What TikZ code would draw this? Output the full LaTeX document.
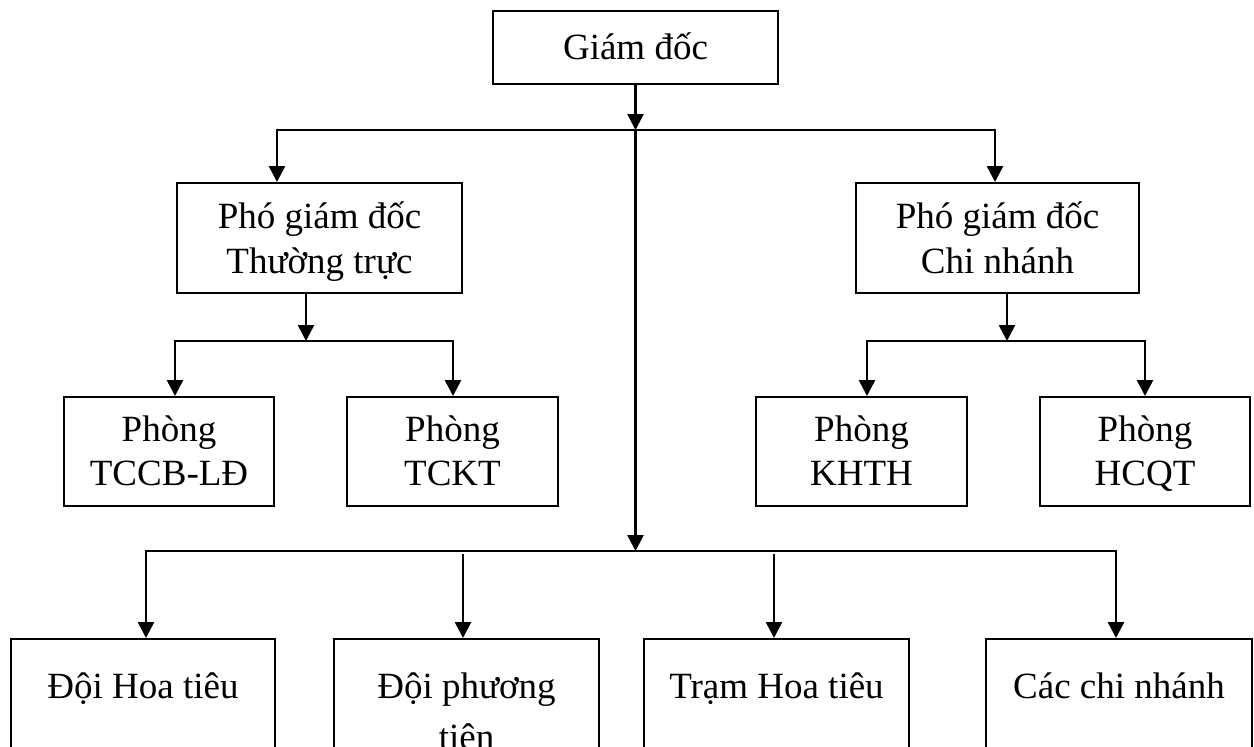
\documentclass[tikz,border=0pt]{standalone}
\usepackage{fontspec}
\setmainfont{Liberation Serif}
\usetikzlibrary{arrows.meta}
\newcommand{\twol}[3][0pt]{\begin{tabular}[t]{@{}c@{}}#2\\[#1]#3\end{tabular}}
\begin{document}
\begin{tikzpicture}[x=0.5pt,y=-0.5pt,
  box/.style={draw, line width=1pt, inner sep=0pt, anchor=north,
    font=\fontsize{18.5pt}{22.5pt}\selectfont},
  conn/.style={line width=1.3pt},
  arr/.style={conn, -{Triangle[width=8pt,length=8pt]}}]
\useasboundingbox (0,0) rectangle (1254,746);

% boxes (anchored at their top edge; text height/depth place the first baseline)
\node[box, minimum width=142.5pt, text height=24pt, text depth=12.5pt] (gd) at (635.5,10) {Giám đốc};
\node[box, minimum width=142.5pt, text height=22.5pt, text depth=32.5pt] (pgd1) at (319.5,182) {\twol{Phó giám đốc}{Thường trực}};
\node[box, minimum width=141.5pt, text height=22.5pt, text depth=32.5pt] (pgd2) at (997.5,182) {\twol{Phó giám đốc}{Chi nhánh}};
\node[box, minimum width=105pt, text height=22pt, text depth=32.5pt] (p1) at (169,396) {\twol[-0.5pt]{Phòng}{TCCB-LĐ}};
\node[box, minimum width=105.5pt, text height=22pt, text depth=32.5pt] (p2) at (452.5,396) {\twol[-0.5pt]{Phòng}{TCKT}};
\node[box, minimum width=105.5pt, text height=22pt, text depth=32.5pt] (p3) at (861.5,396) {\twol[-0.5pt]{Phòng}{KHTH}};
\node[box, minimum width=105pt, text height=22pt, text depth=32.5pt] (p4) at (1145,396) {\twol[-0.5pt]{Phòng}{HCQT}};
\node[box, minimum width=132pt, text height=29.5pt, text depth=36.5pt] (d1) at (143,638) {Đội Hoa tiêu};
\node[box, minimum width=132.5pt, text height=29.5pt, text depth=36.5pt] (d2) at (466.5,638) {\twol[3pt]{Đội phương}{tiện}};
\node[box, minimum width=132.5pt, text height=29.5pt, text depth=36.5pt] (d3) at (776.5,638) {Trạm Hoa tiêu};
\node[box, minimum width=133pt, text height=29.5pt, text depth=36.5pt] (d4) at (1119,638) {Các chi nhánh};

% junction coordinates
\coordinate (jt) at (635.5,130);
\coordinate (jb) at (635.5,551);
\coordinate (a1) at (277,130);
\coordinate (a2) at (995,130);
\coordinate (s1) at (306,341);
\coordinate (s1l) at (175,341);
\coordinate (s1r) at (453,341);
\coordinate (s2) at (1007,341);
\coordinate (s2l) at (867,341);
\coordinate (s2r) at (1145,341);
\coordinate (bl) at (146,551);
\coordinate (br) at (1116,551);
\coordinate (m2) at (463,554);
\coordinate (m3) at (774,554);

% connectors
\draw[arr] (gd.south) -- (jt);
\draw[arr] (jt) -- (jb);
\draw[arr] (jt) -- (a1) -- (a1 |- pgd1.north);
\draw[arr] (jt) -- (a2) -- (a2 |- pgd2.north);

\draw[arr] (pgd1.south -| s1) -- (s1);
\draw[arr] (s1) -- (s1l) -- (s1l |- p1.north);
\draw[arr] (s1) -- (s1r) -- (s1r |- p2.north);

\draw[arr] (pgd2.south -| s2) -- (s2);
\draw[arr] (s2) -- (s2l) -- (s2l |- p3.north);
\draw[arr] (s2) -- (s2r) -- (s2r |- p4.north);

\draw[arr] (jb) -- (bl) -- (bl |- d1.north);
\draw[arr] (jb) -- (br) -- (br |- d4.north);
\draw[arr] (m2) -- (m2 |- d2.north);
\draw[arr] (m3) -- (m3 |- d3.north);
\end{tikzpicture}
\end{document}
